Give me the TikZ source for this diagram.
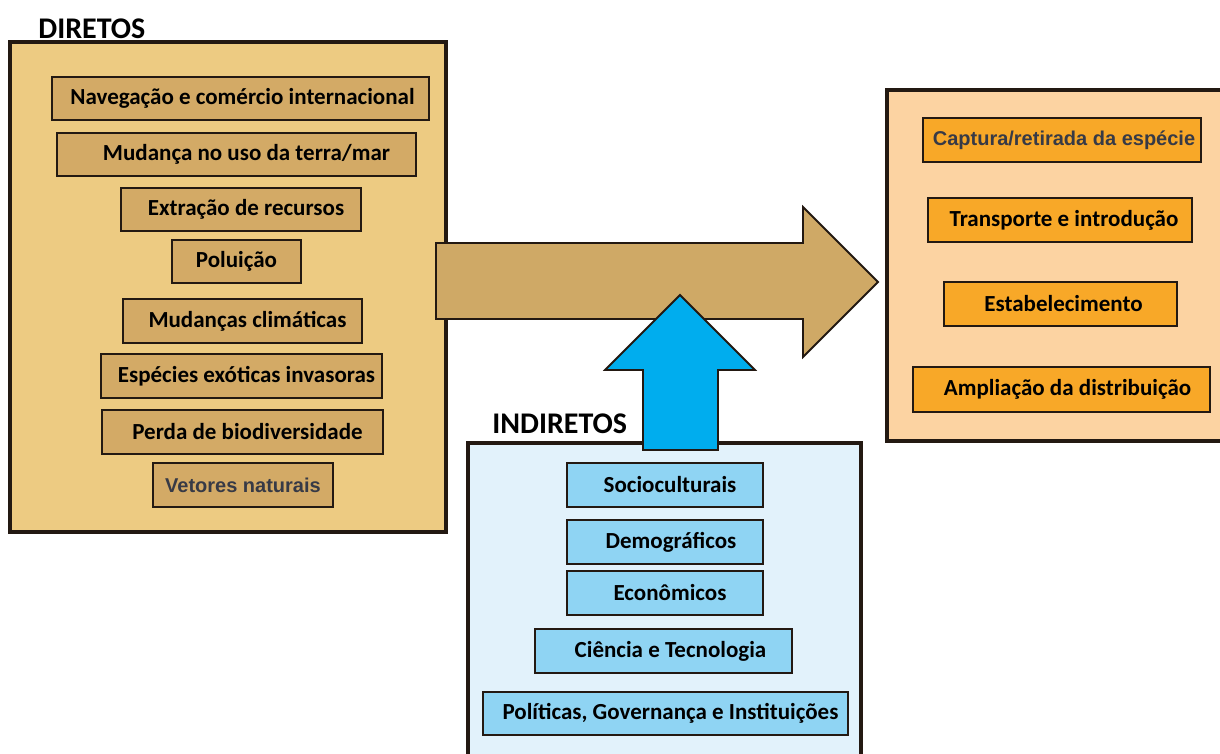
\documentclass[tikz,border=0pt]{standalone}
\usepackage{fontspec}
\setmainfont{Carlito}
\newfontfamily\helv{Liberation Sans}
\definecolor{dirfill}{RGB}{237,203,130}
\definecolor{dirbox}{RGB}{211,170,102}
\definecolor{tanarrow}{RGB}{207,169,102}
\definecolor{peach}{RGB}{252,211,162}
\definecolor{orangebox}{RGB}{248,168,40}
\definecolor{indfill}{RGB}{226,242,251}
\definecolor{bluebox}{RGB}{143,212,243}
\definecolor{bluearrow}{RGB}{0,173,238}
\definecolor{edge}{RGB}{35,25,18}
\definecolor{greytext}{RGB}{55,58,70}
\newcommand{\sh}[1]{\hspace*{#1pt}}
\begin{document}
\begin{tikzpicture}[x=0.5pt,y=-0.5pt,
  bigbox/.style={draw=edge,line width=1.6pt},
  item/.style={draw=edge,line width=0.8pt,inner sep=0pt,font=\bfseries\fontsize{11.5}{13}\selectfont,text=black},
  diritem/.style={item,fill=dirbox},
  blueitem/.style={item,fill=bluebox},
  orangeitem/.style={item,fill=orangebox},
  helvtext/.style={font=\helv\bfseries\fontsize{10}{12}\selectfont,text=greytext},
  heading/.style={font=\bfseries\fontsize{15}{17}\selectfont,text=black,inner sep=0pt},
  fatarrow/.style={draw=edge,line width=0.9pt,line join=miter}]
\useasboundingbox (0,0) rectangle (1220,754);
\begin{scope}
\clip (0,0) rectangle (1220,754);
% DIRETOS
\draw[bigbox,fill=dirfill] (10,42) rectangle (446,532);
\node[heading,anchor=west] (hdir) at (38,29) {DIRETOS};
\node[diritem,minimum width=377*0.5pt,minimum height=43*0.5pt] (d1) at (240.5,98.5) {\sh{2}Navegação e comércio internacional};
\node[diritem,minimum width=359*0.5pt,minimum height=43*0.5pt] (d2) at (236.5,154.5) {\sh{10}Mudança no uso da terra/mar};
\node[diritem,minimum width=240*0.5pt,minimum height=43*0.5pt] (d3) at (241,209.5) {\sh{5}Extração de recursos};
\node[diritem,minimum width=129*0.5pt,minimum height=43*0.5pt] (d4) at (236.5,261.5) {Poluição};
\node[diritem,minimum width=239*0.5pt,minimum height=44*0.5pt] (d5) at (242.5,321) {\sh{5}Mudanças climáticas};
\node[diritem,minimum width=281*0.5pt,minimum height=44*0.5pt] (d6) at (241.5,376) {\sh{5}Espécies exóticas invasoras};
\node[diritem,minimum width=281*0.5pt,minimum height=44*0.5pt] (d7) at (242.5,432) {\sh{5}Perda de biodiversidade};
\node[diritem,helvtext,minimum width=180*0.5pt,minimum height=44*0.5pt] (d8) at (243,485) {Vetores naturais};
% right box
\draw[bigbox,fill=peach] (887,90) rectangle (1226,441);
\node[orangeitem,helvtext,minimum width=278*0.5pt,minimum height=44*0.5pt] (o1) at (1062,140) {\sh{2}Captura/retirada da espécie};
\node[orangeitem,minimum width=264*0.5pt,minimum height=44*0.5pt] (o2) at (1060,220) {\sh{4}Transporte e introdução};
\node[orangeitem,minimum width=233*0.5pt,minimum height=44*0.5pt] (o3) at (1060.5,304) {\sh{3}Estabelecimento};
\node[orangeitem,minimum width=297*0.5pt,minimum height=45*0.5pt] (o4) at (1061.5,389.5) {\sh{6}Ampliação da distribuição};
% INDIRETOS
\draw[bigbox,fill=indfill] (468,443) rectangle (861,770);
\node[heading,anchor=west] (hind) at (492,424) {INDIRETOS};
\node[blueitem,minimum width=196*0.5pt,minimum height=44*0.5pt] (b1) at (665,485) {\sh{5}Socioculturais};
\node[blueitem,minimum width=196*0.5pt,minimum height=44*0.5pt] (b2) at (665,542) {\sh{6}Demográficos};
\node[blueitem,minimum width=196*0.5pt,minimum height=44*0.5pt] (b3) at (665,593) {\sh{5}Econômicos};
\node[blueitem,minimum width=257*0.5pt,minimum height=44*0.5pt] (b4) at (663.5,651) {\sh{7}Ciência e Tecnologia};
\node[blueitem,minimum width=365*0.5pt,minimum height=43*0.5pt] (b5) at (665.5,713.5) {\sh{5}Políticas, Governança e Instituições};
% tan arrow
\draw[fatarrow,fill=tanarrow] (436,243) -- (803,243) -- (803,207) -- (878,282) -- (803,357) -- (803,319) -- (436,319) -- cycle;
% blue arrow
\draw[fatarrow,fill=bluearrow] (643,450) -- (643,370) -- (605,370) -- (680,295) -- (755,370) -- (718,370) -- (718,450) -- cycle;
\end{scope}
\end{tikzpicture}
\end{document}
